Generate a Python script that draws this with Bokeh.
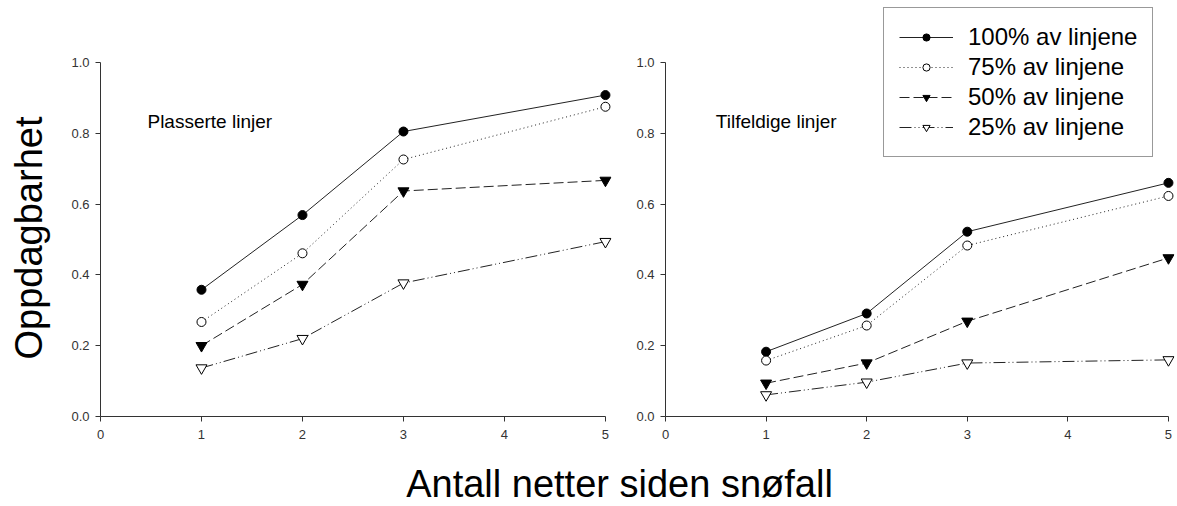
import math
from bokeh.plotting import figure
from bokeh.models import Range1d, Label, Legend, LegendItem, FixedTicker, PrintfTickFormatter
from bokeh.layouts import column, row
from bokeh.embed import file_html
from bokeh.resources import INLINE

# ---- data ----
nights = [1, 2, 3, 5]
x_ticks = [0, 1, 2, 3, 4, 5]
y_ticks = [0.0, 0.2, 0.4, 0.6, 0.8, 1.0]
series_labels = ["100% av linjene", "75% av linjene", "50% av linjene", "25% av linjene"]
panel_titles = ["Plasserte linjer", "Tilfeldige linjer"]

placed_100 = [0.358, 0.569, 0.805, 0.908]
placed_75 = [0.267, 0.461, 0.726, 0.875]
placed_50 = [0.200, 0.373, 0.637, 0.667]
placed_25 = [0.137, 0.220, 0.377, 0.494]

random_100 = [0.183, 0.291, 0.522, 0.660]
random_75 = [0.158, 0.257, 0.483, 0.623]
random_50 = [0.094, 0.151, 0.269, 0.448]
random_25 = [0.061, 0.097, 0.151, 0.160]

y_title = "Oppdagbarhet"
x_title = "Antall netter siden snøfall"

# ---- styles ----
STY = [
    dict(marker="circle", fill="black", dash="solid", size=9),
    dict(marker="circle", fill="white", dash="1 3", size=9),
    dict(marker="inverted_triangle", fill="black", dash="10 4", size=11),
    dict(marker="inverted_triangle", fill="white", dash="12 3 1 3 1 3", size=11),
]
FONT = "Liberation Sans"
Y_END = 416 / 354.0  # frames reach the canvas top; 1.0 sits at y=62


def make_panel(width, xend, border_left, border_right, series, title, title_x):
    p = figure(width=width, height=445, x_range=Range1d(0, xend), y_range=Range1d(0, Y_END),
               min_border_left=border_left, min_border_right=border_right,
               min_border_top=0, min_border_bottom=29,
               toolbar_location=None, output_backend="svg")
    p.grid.visible = False
    p.outline_line_color = None
    for ax in (p.xaxis[0], p.yaxis[0]):
        ax.axis_line_color = "#333333"
        ax.major_tick_line_color = "#333333"
        ax.major_tick_in = 0
        ax.major_tick_out = 5
        ax.minor_tick_in = 0
        ax.minor_tick_out = 0
        ax.major_label_text_font = FONT
        ax.major_label_text_font_size = "13px"
        ax.major_label_text_color = "#333333"
    p.xaxis.major_label_standoff = 8
    p.yaxis.major_label_standoff = 6
    p.xaxis.ticker = FixedTicker(ticks=x_ticks)
    p.yaxis.ticker = FixedTicker(ticks=y_ticks)
    p.yaxis.formatter = PrintfTickFormatter(format="%.1f")
    p.xaxis.bounds = (0, 5)
    p.yaxis.bounds = (0, 1)
    rends = []
    for ys, st in zip(series, STY):
        lr = p.line(nights, ys, line_color="#222222", line_width=1, line_dash=st["dash"])
        sr = p.scatter(nights, ys, marker=st["marker"], size=st["size"],
                       fill_color=st["fill"], line_color="black", line_width=1)
        rends.append((lr, sr))
    p.add_layout(Label(x=title_x, y=0.833, text=title, text_font=FONT,
                       text_font_size="19px", text_baseline="middle", text_color="black"))
    return p, rends


# y-axis title strip
py = figure(width=60, height=445, x_range=Range1d(0, 60), y_range=Range1d(0, 416),
            x_axis_type=None, y_axis_type=None, title=None,
            min_border_left=0, min_border_right=0, min_border_top=0, min_border_bottom=29,
            toolbar_location=None, output_backend="svg")
py.grid.visible = False
py.outline_line_color = None
py.add_layout(Label(x=28, y=178.5, text=y_title, text_font=FONT, text_font_size="38px",
                    angle=math.pi / 2, text_align="center", text_baseline="middle",
                    text_color="black"))

p1, _ = make_panel(560, 5.06, 40, 9, [placed_100, placed_75, placed_50, placed_25],
                   panel_titles[0], 0.465)

p2, rends2 = make_panel(557, 5.06, 45, 3, [random_100, random_75, random_50, random_25],
                        panel_titles[1], 0.5)

legend = Legend(
    items=[LegendItem(label=lbl, renderers=[lr, sr]) for lbl, (lr, sr) in zip(series_labels, rends2)],
    location=(218, 259), glyph_width=54, glyph_height=18, label_height=24, label_width=165,
    label_standoff=15, padding=15, spacing=2, margin=0,
    border_line_color="#333333", border_line_width=1,
    label_text_font=FONT, label_text_font_size="24px", label_text_color="black",
    background_fill_color="white", background_fill_alpha=1.0,
)
p2.add_layout(legend, "center")

p3 = figure(width=1177, height=61, x_range=Range1d(0, 1177), y_range=Range1d(0, 61),
            x_axis_type=None, y_axis_type=None, title=None,
            min_border=0, toolbar_location=None, output_backend="svg")
p3.grid.visible = False
p3.outline_line_color = None
p3.add_layout(Label(x=619, y=23, text=x_title, text_font=FONT, text_font_size="38px",
                    text_align="center", text_baseline="alphabetic", text_color="black"))

layout = column(row(py, p1, p2), p3)
open("out.html", "w").write(file_html(layout, INLINE))
